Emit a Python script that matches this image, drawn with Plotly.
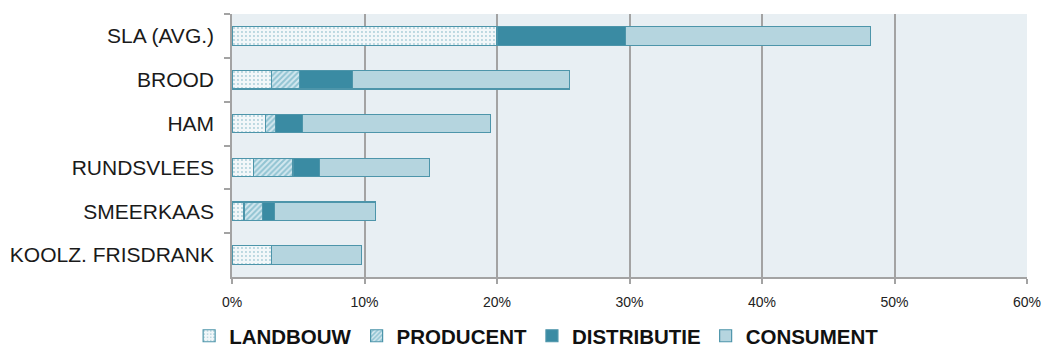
import plotly.graph_objects as go

categories = ["SLA (AVG.)", "BROOD", "HAM", "RUNDSVLEES", "SMEERKAAS", "KOOLZ. FRISDRANK"]
landbouw = [20.0, 3.0, 2.5, 1.6, 0.9, 3.0]
producent = [0.0, 2.1, 0.8, 3.0, 1.4, 0.0]
distributie = [9.7, 4.0, 2.0, 2.0, 0.9, 0.0]
consument = [18.5, 16.4, 14.2, 8.3, 7.6, 6.8]
x_ticks = [0, 10, 20, 30, 40, 50, 60]

edge = "#4d95aa"
series = [
    ("LANDBOUW", landbouw, dict(color="#ffffff", pattern=dict(shape=".", fgcolor="#5fa3b7", bgcolor="#f2f7f9", size=4, solidity=0.18))),
    ("PRODUCENT", producent, dict(color="#ffffff", pattern=dict(shape="/", fgcolor="#4f9fb6", bgcolor="#d3e8ef", size=4, solidity=0.5))),
    ("DISTRIBUTIE", distributie, dict(color="#3a8ba3")),
    ("CONSUMENT", consument, dict(color="#b5d5df")),
]

fig = go.Figure()
for name, vals, mk in series:
    mk = dict(mk)
    mk["line"] = dict(color=edge, width=1.2)
    fig.add_trace(go.Bar(
        y=categories, x=vals, name=name, orientation="h",
        marker=mk, width=0.42,
    ))

fig.update_layout(
    barmode="stack",
    width=1042, height=349,
    margin=dict(l=232, r=15, t=14, b=72, autoexpand=False),
    paper_bgcolor="#ffffff",
    plot_bgcolor="#e8eff3",
    font=dict(family="Liberation Sans, Arial, sans-serif", color="#1a1a1a"),
    legend=dict(
        orientation="h", xref="container", yref="paper",
        x=0.515, xanchor="center", y=-0.148, yanchor="top",
        font=dict(size=20.5, family="Liberation Sans, Arial, sans-serif", color="#111111", weight="bold"),
        itemwidth=30, traceorder="normal",
    ),
)
fig.update_xaxes(
    range=[0, 60], tickvals=x_ticks, ticktext=[f"{v}%" for v in x_ticks],
    showgrid=True, gridcolor="#a3a3a3", gridwidth=1.5,
    ticks="outside", ticklen=5, tickcolor="#a3a3a3", tickwidth=1.5,
    tickfont=dict(size=14, family="Liberation Sans Narrow, Arial Narrow, Liberation Sans, sans-serif", color="#222222"),
    showline=True, linecolor="#a3a3a3", linewidth=1.5, zeroline=False,
    ticklabelstandoff=6, automargin=False,
)
fig.update_yaxes(
    autorange="reversed", tickson="boundaries",
    ticks="outside", ticklen=6, tickcolor="#a3a3a3", tickwidth=1.5,
    showline=True, linecolor="#a3a3a3", linewidth=1.5,
    tickfont=dict(size=21, color="#1a1a1a"),
    ticklabelstandoff=12, showgrid=False, automargin=False,
)

fig.write_html("out.html")
